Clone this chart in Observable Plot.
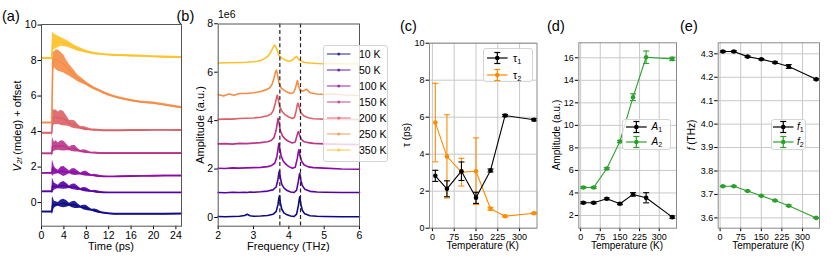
<!DOCTYPE html>
<html><head><meta charset="utf-8">
<script src="https://cdn.jsdelivr.net/npm/d3@7"></script>
<script src="https://cdn.jsdelivr.net/npm/@observablehq/plot@0.6"></script>
<style>
body{margin:0;background:#fff;}
#wrap{position:relative;width:831px;height:266px;overflow:hidden;font-family:"Liberation Sans",Arial,sans-serif;color:#000;background:#fff;}
.t{position:absolute;white-space:nowrap;line-height:1;}
.rot{transform:translate(-50%,-50%) rotate(-90deg);}
.hc{transform:translate(-50%,-50%);}
.lc{transform:translate(0,-50%);}
.lg{position:absolute;background:rgba(255,255,255,0.8);border:1px solid #d4d4d4;border-radius:3px;box-sizing:border-box;}
sub{font-size:70%;vertical-align:-0.25em;line-height:0;}
</style></head><body><div id="wrap"></div>
<script>
// ---------------- data ----------------
const temps = ["10 K","50 K","100 K","150 K","200 K","250 K","350 K"];
const tempK = [10, 50, 100, 150, 200, 250, 350];

// (a) time traces: centre and half-width of the oscillating band
const timePs = [0,1.85,1.95,2.05,2.3,2.6,3.0,3.5,4.0,4.5,5.0,5.5,6.0,6.5,7.0,7.5,8.0,8.5,9.0,9.5,10.0,10.5,11,12,13,14,16,18,20,22,25];
const trC10  = [-0.52,-0.52,-0.2,-0.1,-0.12,-0.1,-0.1,-0.06,-0.05,-0.08,-0.12,-0.12,-0.13,-0.2,-0.25,-0.28,-0.3,-0.37,-0.42,-0.45,-0.5,-0.55,-0.58,-0.62,-0.64,-0.64,-0.64,-0.64,-0.64,-0.64,-0.63];
const trH10  = [0.04,0.04,0.5,0.4,0.2,0.15,0.1,0.2,0.24,0.18,0.08,0.17,0.2,0.14,0.06,0.13,0.15,0.1,0.05,0.09,0.09,0.06,0.05,0.05,0.04,0.04,0.04,0.04,0.04,0.04,0.04];
const trC50  = [0.62,0.62,0.95,0.95,0.9,0.9,0.88,0.95,0.97,0.92,0.86,0.88,0.88,0.8,0.74,0.74,0.72,0.66,0.63,0.62,0.6,0.58,0.57,0.56,0.56,0.56,0.56,0.56,0.56,0.56,0.56];
const trH50  = [0.04,0.04,0.45,0.35,0.2,0.15,0.1,0.18,0.22,0.15,0.07,0.15,0.17,0.12,0.05,0.11,0.12,0.08,0.04,0.07,0.07,0.05,0.04,0.04,0.04,0.04,0.04,0.04,0.04,0.04,0.04];
const trC100 = [1.66,1.66,1.95,1.9,1.8,1.75,1.72,1.78,1.75,1.72,1.7,1.73,1.72,1.66,1.62,1.63,1.62,1.57,1.53,1.52,1.5,1.48,1.47,1.46,1.46,1.47,1.48,1.49,1.5,1.51,1.51];
const trH100 = [0.04,0.04,0.45,0.4,0.22,0.16,0.1,0.22,0.28,0.18,0.08,0.17,0.19,0.12,0.05,0.12,0.14,0.08,0.04,0.07,0.07,0.05,0.04,0.04,0.04,0.04,0.04,0.04,0.04,0.04,0.04];
const trC150 = [2.76,2.76,3.15,3.2,3.15,3.2,3.15,3.2,3.18,3.1,3.02,3.05,3.03,2.95,2.88,2.88,2.86,2.82,2.8,2.8,2.79,2.78,2.78,2.78,2.78,2.78,2.78,2.78,2.78,2.78,2.78];
const trH150 = [0.04,0.04,0.55,0.4,0.25,0.28,0.2,0.28,0.27,0.18,0.1,0.17,0.18,0.1,0.05,0.09,0.09,0.06,0.04,0.05,0.05,0.04,0.04,0.04,0.04,0.04,0.04,0.04,0.04,0.04,0.04];
const trC200 = [3.92,3.92,4.55,4.75,4.8,4.8,4.75,4.78,4.72,4.6,4.45,4.42,4.38,4.28,4.2,4.18,4.15,4.12,4.1,4.09,4.08,4.07,4.06,4.06,4.06,4.06,4.07,4.07,4.08,4.08,4.07];
const trH200 = [0.04,0.04,0.85,0.5,0.4,0.42,0.35,0.42,0.4,0.28,0.18,0.22,0.22,0.13,0.07,0.1,0.1,0.06,0.05,0.05,0.05,0.04,0.04,0.04,0.04,0.04,0.04,0.04,0.04,0.04,0.04];
const trC250 = [4.5,4.5,6.5,7.9,8.05,8.05,8.0,7.9,7.8,7.6,7.45,7.3,7.15,7.0,6.9,6.8,6.7,6.6,6.5,6.42,6.35,6.28,6.2,6.07,5.97,5.88,5.75,5.65,5.6,5.5,5.35];
const trH250 = [0.04,0.04,2.0,0.55,0.45,0.55,0.6,0.55,0.5,0.4,0.33,0.28,0.23,0.19,0.16,0.13,0.11,0.1,0.09,0.08,0.08,0.07,0.07,0.07,0.06,0.06,0.06,0.06,0.06,0.06,0.06];
const trC350 = [8.13,8.13,8.85,9.1,9.05,9.05,9.05,9.05,9.0,8.95,8.88,8.8,8.72,8.65,8.6,8.55,8.5,8.46,8.42,8.4,8.38,8.36,8.35,8.32,8.3,8.29,8.27,8.25,8.22,8.2,8.18];
const trH350 = [0.04,0.04,0.75,0.5,0.43,0.4,0.32,0.25,0.22,0.19,0.17,0.15,0.13,0.12,0.11,0.09,0.08,0.07,0.07,0.06,0.06,0.05,0.05,0.05,0.05,0.05,0.05,0.05,0.05,0.05,0.05];

// (b) spectra (amplitude in units of 1e6, with offsets)
const specF10  = [2.0,2.2,2.4,2.6,2.75,2.82,2.9,3.0,3.2,3.4,3.55,3.64,3.69,3.72,3.735,3.76,3.8,3.86,3.95,4.05,4.15,4.22,4.27,4.3,4.31,4.34,4.38,4.45,4.6,4.8,5.0,5.5,6.0];
const specA10  = [0.04,0.03,0.04,0.05,0.08,0.13,0.07,0.05,0.06,0.08,0.13,0.24,0.52,0.82,0.9,0.6,0.34,0.19,0.11,0.06,0.04,0.14,0.5,0.8,0.85,0.55,0.3,0.15,0.07,0.05,0.04,0.03,0.03];
const specF50  = [2.0,2.2,2.4,2.6,2.75,2.82,2.9,3.0,3.2,3.4,3.55,3.64,3.69,3.72,3.735,3.76,3.8,3.86,3.95,4.05,4.15,4.22,4.27,4.3,4.31,4.34,4.38,4.45,4.6,4.8,5.0,5.5,6.0];
const specA50  = [1.03,1.02,1.04,1.03,1.04,1.03,1.05,1.04,1.06,1.09,1.14,1.26,1.56,1.86,1.93,1.64,1.37,1.22,1.11,1.05,1.03,1.13,1.5,1.78,1.82,1.54,1.32,1.17,1.08,1.05,1.04,1.03,1.03];
const specF100 = [2.0,2.2,2.4,2.6,2.8,3.0,3.2,3.4,3.5,3.6,3.66,3.7,3.715,3.74,3.78,3.84,3.92,4.0,4.1,4.18,4.24,4.27,4.285,4.31,4.36,4.43,4.55,4.7,5.0,5.5,6.0];
const specA100 = [2.03,2.02,2.05,2.04,2.05,2.06,2.07,2.1,2.14,2.24,2.5,2.88,3.05,2.88,2.55,2.33,2.19,2.1,2.03,2.07,2.44,2.72,2.8,2.58,2.32,2.18,2.09,2.06,2.04,2.0,1.99];
const specF150 = [2.0,2.2,2.4,2.6,2.8,3.0,3.2,3.4,3.5,3.58,3.64,3.68,3.695,3.72,3.76,3.82,3.9,4.0,4.1,4.18,4.23,4.26,4.275,4.3,4.35,4.42,4.55,4.7,5.0,5.5,6.0];
const specA150 = [3.04,3.05,3.03,3.06,3.05,3.07,3.09,3.13,3.18,3.3,3.6,3.97,4.1,3.92,3.58,3.37,3.23,3.14,3.08,3.12,3.38,3.53,3.55,3.42,3.23,3.14,3.09,3.06,3.04,3.02,3.01];
const specF200 = [2.0,2.2,2.4,2.6,2.8,3.0,3.2,3.4,3.5,3.56,3.62,3.66,3.675,3.7,3.74,3.8,3.88,4.0,4.1,4.16,4.21,4.245,4.26,4.29,4.34,4.42,4.55,4.7,5.0,5.5,6.0];
const specA200 = [4.05,4.07,4.06,4.09,4.1,4.11,4.14,4.2,4.28,4.42,4.74,5.0,5.05,4.88,4.58,4.4,4.26,4.15,4.09,4.14,4.42,4.69,4.72,4.57,4.33,4.2,4.12,4.08,4.06,4.05,4.04];
const specF250 = [2.0,2.15,2.3,2.45,2.6,2.8,3.0,3.2,3.35,3.45,3.52,3.58,3.62,3.65,3.68,3.72,3.78,3.86,3.95,4.05,4.13,4.19,4.23,4.245,4.27,4.32,4.4,4.5,4.6,4.8,5.0,5.3,5.6,6.0];
const specA250 = [5.08,5.02,5.1,5.05,5.12,5.12,5.15,5.2,5.27,5.35,5.48,5.75,6.0,6.08,5.9,5.55,5.35,5.26,5.18,5.12,5.15,5.35,5.6,5.65,5.45,5.25,5.22,5.3,5.15,5.1,5.08,5.1,5.06,5.04];
const specF350 = [2.0,2.3,2.6,2.8,3.0,3.1,3.2,3.3,3.4,3.47,3.53,3.57,3.6,3.63,3.67,3.72,3.8,3.9,4.0,4.1,4.17,4.22,4.27,4.35,4.45,4.6,4.8,5.0,5.5,6.0];
const specA350 = [6.38,6.39,6.4,6.41,6.43,6.45,6.48,6.55,6.65,6.78,6.95,7.07,7.12,7.05,6.9,6.7,6.58,6.5,6.45,6.5,6.6,6.65,6.55,6.45,6.4,6.38,6.36,6.35,6.35,6.34];
const peakLines = [3.745, 4.33];

// (c) decay times
const tau1 = [2.83, 2.13, 3.08, 1.64, 3.12, 6.09, 5.86];
const tau1Err = [0.3, 0.43, 0.5, 0.3, 0.08, 0.06, 0.06];
const tau2 = [5.71, 3.88, 3.03, 3.08, 1.05, 0.65, 0.81];
const tau2Err = [2.12, 2.25, 0.75, 1.8, 0.08, 0.05, 0.05];
// (d) amplitudes
const amp1 = [3.13, 3.13, 3.48, 3.04, 3.87, 3.57, 1.85];
const amp1Err = [0.08, 0.08, 0.08, 0.08, 0.15, 0.45, 0.1];
const amp2 = [4.49, 4.49, 6.17, 8.57, 12.5, 16.05, 15.9];
const amp2Err = [0.08, 0.08, 0.08, 0.1, 0.3, 0.55, 0.15];
// (e) frequencies
const freq1 = [4.31, 4.31, 4.288, 4.277, 4.263, 4.246, 4.191];
const freq1Err = [0.003, 0.003, 0.003, 0.003, 0.003, 0.008, 0.003];
const freq2 = [3.735, 3.735, 3.715, 3.694, 3.674, 3.652, 3.60];
const freq2Err = [0.002, 0.002, 0.002, 0.002, 0.002, 0.003, 0.002];

// ---------------- styles ----------------
const plasmaPos = [0, 0.145, 0.29, 0.435, 0.58, 0.725, 0.87];
const colors = plasmaPos.map(p => d3.interpolatePlasma(p));
const ORANGE = "#ff8c00", GREEN = "#2ca02c", BLACK = "#000";
const FONT = '"Liberation Sans", Arial, sans-serif';

const wrap = document.getElementById("wrap");
function put(el, left) { el.style.position = "absolute"; el.style.left = left + "px"; el.style.top = "0px"; wrap.appendChild(el); }
function txt(html, x, y, cls, size, extra) {
  const d = document.createElement("div");
  d.className = "t " + cls;
  d.innerHTML = html;
  d.style.left = x + "px"; d.style.top = y + "px"; d.style.fontSize = size + "px";
  if (extra) Object.assign(d.style, extra);
  wrap.appendChild(d);
  return d;
}
const intFmt = d3.format("d");
function axes(xTicks, yTicks, xFmt, yFmt, fs) {
  return [
    Plot.axisX({ticks: xTicks, tickSize: 3.5, tickPadding: 1.5, label: null, fontSize: fs, tickFormat: xFmt}),
    Plot.axisY({ticks: yTicks, tickSize: 3.5, tickPadding: 1.5, label: null, fontSize: fs, tickFormat: yFmt})
  ];
}
const capSym = {draw(ctx, size) { const w = Math.sqrt(size / Math.PI); ctx.moveTo(-w, 0); ctx.lineTo(w, 0); }};

// ---------------- (a) ----------------
const trC = [trC10, trC50, trC100, trC150, trC200, trC250, trC350];
const trH = [trH10, trH50, trH100, trH150, trH200, trH250, trH350];
const aRows = [];
temps.forEach((tp, k) => timePs.forEach((t, i) => aRows.push({t, lo: trC[k][i] - trH[k][i], hi: trC[k][i] + trH[k][i], mid: trC[k][i], temp: tp})));
const plotA = Plot.plot({
  width: 190, height: 266, marginLeft: 41, marginRight: 9, marginTop: 24, marginBottom: 40.3,
  x: {domain: [0, 25]}, y: {domain: [-1.33, 10.03]},
  color: {domain: temps, range: colors},
  style: {fontFamily: FONT, fontSize: "10.5px", color: "#000", background: "transparent"},
  marks: [
    Plot.areaY(aRows, {x: "t", y1: "lo", y2: "hi", z: "temp", fill: "temp", fillOpacity: 0.9}),
    Plot.line(aRows, {x: "t", y: "mid", z: "temp", stroke: "temp", strokeWidth: 1.4}),
    ...axes([0,4,8,12,16,20,24], [0,2,4,6,8,10], intFmt, intFmt, 10.5),
    Plot.frame({stroke: "#555"})
  ]
});
put(plotA, 0);

// ---------------- (b) ----------------
const specF = [specF10, specF50, specF100, specF150, specF200, specF250, specF350];
const specA = [specA10, specA50, specA100, specA150, specA200, specA250, specA350];
const bRows = [];
temps.forEach((tp, k) => specF[k].forEach((f, i) => bRows.push({f, a: specA[k][i], temp: tp})));
const plotB = Plot.plot({
  width: 200, height: 266, marginLeft: 27.7, marginRight: 31, marginTop: 23.5, marginBottom: 40.3,
  x: {domain: [2, 6]}, y: {domain: [-0.36, 7.99]},
  color: {domain: temps, range: colors},
  style: {fontFamily: FONT, fontSize: "10.5px", color: "#000", background: "transparent"},
  marks: [
    Plot.line(bRows, {x: "f", y: "a", z: "temp", stroke: "temp", strokeWidth: 1.6}),
    Plot.ruleX(peakLines, {stroke: "#222", strokeWidth: 1.2, strokeDasharray: "4,2.6"}),
    ...axes([2,3,4,5,6], [0,2,4,6,8], intFmt, intFmt, 10.5),
    Plot.frame({stroke: "#555"})
  ]
});
put(plotB, 190);

// ---------------- (c),(d),(e) helpers ----------------
function seriesMarks(vals, errs, color) {
  const rows = tempK.map((T, i) => ({T, v: vals[i], lo: vals[i] - errs[i], hi: vals[i] + errs[i]}));
  return [
    Plot.line(rows, {x: "T", y: "v", stroke: color, strokeWidth: 1.1}),
    Plot.ruleX(rows, {x: "T", y1: "lo", y2: "hi", stroke: color, strokeWidth: 1.1}),
    Plot.dot(rows, {x: "T", y: "lo", symbol: capSym, r: 3, stroke: color, fill: "none", strokeWidth: 1.1}),
    Plot.dot(rows, {x: "T", y: "hi", symbol: capSym, r: 3, stroke: color, fill: "none", strokeWidth: 1.1}),
    Plot.dot(rows, {x: "T", y: "v", r: 2.3, fill: color, stroke: "none"})
  ];
}
const tTicks = [0, 75, 150, 225, 300];
function gridMarks(yTicks) {
  return [
    Plot.gridX({ticks: tTicks, stroke: "#c8c8c8", strokeOpacity: 1, strokeWidth: 1}),
    Plot.gridY({ticks: yTicks, stroke: "#c8c8c8", strokeOpacity: 1, strokeWidth: 1})
  ];
}
function sidePlot(cfg) {
  return Plot.plot({
    width: cfg.width, height: 266, marginLeft: cfg.mL, marginRight: cfg.mR, marginTop: cfg.mT, marginBottom: 266 - 227.7,
    x: {domain: cfg.xd}, y: {domain: cfg.yd},
    style: {fontFamily: FONT, fontSize: "9px", color: "#000", background: "transparent"},
    marks: [
      ...gridMarks(cfg.yTicks),
      ...cfg.marks,
      ...axes(tTicks, cfg.yTicks, intFmt, cfg.yFmt, 9),
      Plot.frame({stroke: "#8a8a8a"})
    ]
  });
}

// (c)
put(sidePlot({width: 150, mL: 39, mR: 3.5, mT: 42.7, xd: [-10, 360], yd: [0, 10], yTicks: [0,2,4,6,8,10], yFmt: intFmt,
  marks: [...seriesMarks(tau2, tau2Err, ORANGE), ...seriesMarks(tau1, tau1Err, BLACK)]}), 390);
// (d)
put(sidePlot({width: 140, mL: 38.3, mR: 4, mT: 42.3, xd: [-7, 366], yd: [0.87, 17.33], yTicks: [2,4,6,8,10,12,14,16], yFmt: intFmt,
  marks: [...seriesMarks(amp2, amp2Err, GREEN), ...seriesMarks(amp1, amp1Err, BLACK)]}), 540);
// (e)
put(sidePlot({width: 151, mL: 37.7, mR: 12, mT: 42.3, xd: [-7, 362], yd: [3.556, 4.347], yTicks: [3.6,3.7,3.8,3.9,4.0,4.1,4.2,4.3], yFmt: d3.format(".1f"),
  marks: [...seriesMarks(freq2, freq2Err, GREEN), ...seriesMarks(freq1, freq1Err, BLACK)]}), 680);

// ---------------- texts ----------------
txt("(a)", 2, 15.5, "lc", 14.5);
txt("(b)", 176.5, 15.5, "lc", 14.5);
txt("(c)", 400, 26, "lc", 14.5);
txt("(d)", 547, 26, "lc", 14.5);
txt("(e)", 680, 26, "lc", 14.5);

txt("Time (ps)", 111, 246, "hc", 11);
txt('<i>V</i><sub><i>2f</i></sub> (mdeg) + offset', 16.5, 126, "rot", 11);
txt("Frequency (THz)", 288.3, 246, "hc", 11);
txt("Amplitude (a.u.)", 200, 124.6, "rot", 11);
txt("1e6", 218, 14, "lc", 10.5);

txt("Temperature (K)", 482.7, 246, "hc", 10);
txt("τ (ps)", 407, 135, "rot", 10);
txt("Temperature (K)", 627, 246, "hc", 10);
txt("Amplitude (a.u.)", 557, 135, "rot", 10);
txt("Temperature (K)", 768.3, 246, "hc", 10);
txt("<i>f</i> (THz)", 692, 135, "rot", 10);

// ---------------- legends ----------------
function box(l, t, w, h) {
  const d = document.createElement("div");
  d.className = "lg";
  Object.assign(d.style, {left: l + "px", top: t + "px", width: w + "px", height: h + "px"});
  wrap.appendChild(d);
}
function glyph(x1, x2, y, color, err, opacity) {
  const w = x2 - x1;
  const s = document.createElementNS("http://www.w3.org/2000/svg", "svg");
  s.setAttribute("width", w + 8); s.setAttribute("height", 16);
  s.style.position = "absolute"; s.style.left = (x1 - 4) + "px"; s.style.top = (y - 8) + "px"; s.style.overflow = "visible";
  const cx = 4 + w / 2;
  let g = `<g stroke="${color}" stroke-opacity="${opacity}" fill="${color}" fill-opacity="${opacity}" stroke-width="1.2">`;
  g += `<line x1="4" x2="${4 + w}" y1="8" y2="8"/>`;
  if (err) g += `<line x1="${cx}" x2="${cx}" y1="2.5" y2="13.5"/><line x1="${cx - 3}" x2="${cx + 3}" y1="2.5" y2="2.5"/><line x1="${cx - 3}" x2="${cx + 3}" y1="13.5" y2="13.5"/>`;
  g += `<circle cx="${cx}" cy="8" r="${err ? 2.3 : 1.5}" stroke="none"/></g>`;
  s.innerHTML = g;
  wrap.appendChild(s);
}
// (b)
box(322.7, 45, 65.5, 117);
temps.forEach((tp, i) => {
  const y = 54 + 16 * i;
  glyph(327, 350.5, y, colors[i], false, 0.75);
  txt(tp, 359, y, "lc", 10.5);
});
// (c)
box(482.7, 47.7, 50.8, 34);
glyph(486.7, 507.3, 58, BLACK, true, 1);
txt("τ<sub>1</sub>", 513, 58, "lc", 10.5);
glyph(486.7, 507.3, 75, ORANGE, true, 1);
txt("τ<sub>2</sub>", 513, 75, "lc", 10.5);
// (d)
box(622.3, 119, 48.4, 31);
glyph(626, 646.7, 127.3, BLACK, true, 1);
txt("<i>A</i><sub>1</sub>", 651.5, 127.3, "lc", 10);
glyph(626, 646.7, 141.5, GREEN, true, 1);
txt("<i>A</i><sub>2</sub>", 651.5, 141.5, "lc", 10);
// (e)
box(770.7, 119, 35.5, 31);
glyph(772.8, 793.3, 127, BLACK, true, 1);
txt("<i>f</i><sub>1</sub>", 797, 127, "lc", 10);
glyph(772.8, 793.3, 142, GREEN, true, 1);
txt("<i>f</i><sub>2</sub>", 797, 142, "lc", 10);
</script></body></html>
